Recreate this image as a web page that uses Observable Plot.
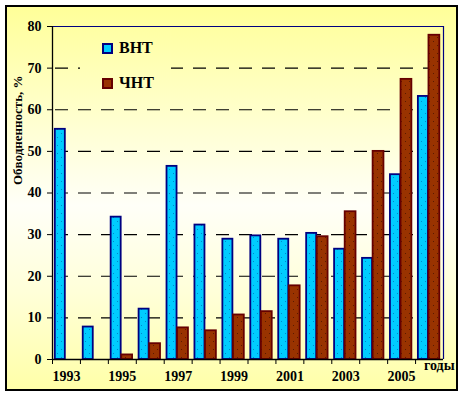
<!DOCTYPE html>
<html>
<head>
<meta charset="utf-8">
<script src="https://cdn.jsdelivr.net/npm/d3@7"></script>
<script src="https://cdn.jsdelivr.net/npm/@observablehq/plot@0.6"></script>
<style>
  html, body { margin: 0; padding: 0; background: #fff; }
  #wrap { position: relative; width: 465px; height: 397px; overflow: hidden; font-family: "Liberation Serif", "Times New Roman", serif; }
  #frame { position: absolute; left: 5px; top: 5px; width: 453px; height: 386px; box-sizing: border-box; border: 2px solid #000;
    background: linear-gradient(to bottom, #FFFF99 0%, #FFFFD0 30%, #FFFFF8 52%, #FFFFD8 75%, #FFFFA8 100%); }
  #chart { position: absolute; left: 0; top: 0; }
  #chart svg, #chart svg text { font-family: "Liberation Serif", "Times New Roman", serif !important; font-weight: bold; }
  #legend { position: absolute; left: 80px; top: 30px; width: 91px; height: 70px;
    background: linear-gradient(to bottom, #FFFF99 0%, #FFFFD0 30%, #FFFFF8 52%, #FFFFD8 75%, #FFFFA8 100%);
    background-size: 453px 386px; background-position: -75px -25px; }
  .li { position: absolute; left: 22px; font-weight: bold; font-size: 16px; line-height: 16px; color: #000; display: flex; align-items: center; }
  .sw { width: 7px; height: 7px; border: 2px solid; margin-right: 6px; }
  #years { position: absolute; left: 424px; top: 358px; font-weight: bold; font-size: 14px; }
</style>
</head>
<body>
<div id="wrap">
  <div id="frame"></div>
  <div id="chart"></div>
  <div id="legend"></div>
  <div id="years">годы</div>
</div>
<script>
const years = [1993, 1994, 1995, 1996, 1997, 1998, 1999, 2000, 2001, 2002, 2003, 2004, 2005, 2006];
const vnt = [55.3, 7.8, 34.2, 12.1, 46.4, 32.3, 28.9, 29.7, 28.9, 30.3, 26.5, 24.3, 44.4, 63.2];
const cnt = [null, null, 1.1, 3.8, 7.6, 6.9, 10.7, 11.5, 17.7, 29.5, 35.5, 50.0, 67.3, 77.9];
const seriesNames = ["ВНТ", "ЧНТ"];
const yTicks = [0, 10, 20, 30, 40, 50, 60, 70, 80];
const xLabels = [1993, 1995, 1997, 1999, 2001, 2003, 2005];
const yLabel = "Обводненность, %";

const blue = "#00CCFF", blueEdge = "#000080", blueDot = "#0088CC";
const red = "#993300", redEdge = "#660000", redDot = "#5A1A00";

const dataV = years.map((y, i) => ({year: y, v: vnt[i]}));
const dataC = years.map((y, i) => ({year: y, v: cnt[i]})).filter(d => d.v != null);
const bounds = years.map(y => y - 0.5);
const grid = yTicks.filter(t => t > 0 && t < 80);

// texture patterns for bar fills
function patternDefs() {
  const ns = "http://www.w3.org/2000/svg";
  const defs = document.createElementNS(ns, "defs");
  [["pb", blue, blueDot], ["pr", red, redDot]].forEach(([id, base, dot]) => {
    const p = document.createElementNS(ns, "pattern");
    p.setAttribute("id", id);
    p.setAttribute("patternUnits", "userSpaceOnUse");
    p.setAttribute("width", "8");
    p.setAttribute("height", "8");
    const r = document.createElementNS(ns, "rect");
    r.setAttribute("width", "8"); r.setAttribute("height", "8"); r.setAttribute("fill", base);
    p.appendChild(r);
    [[1, 1], [5, 5]].forEach(([x, y]) => {
      const d = document.createElementNS(ns, "rect");
      d.setAttribute("x", x); d.setAttribute("y", y); d.setAttribute("width", "1"); d.setAttribute("height", "1"); d.setAttribute("fill", dot);
      p.appendChild(d);
    });
    defs.appendChild(p);
  });
  return defs;
}

const chart = Plot.plot({
  width: 465, height: 397,
  marginLeft: 52, marginRight: 22, marginTop: 26, marginBottom: 38,
  style: { background: "transparent", fontFamily: "Liberation Serif, serif", fontWeight: "bold", fontSize: "13px", color: "#000" },
  x: { type: "linear", domain: [years[0] - 0.5, years[years.length - 1] + 0.5] },
  y: { domain: [0, 80] },
  marks: [
    patternDefs,
    Plot.ruleY(grid, { stroke: "#000", strokeWidth: 1.2, strokeDasharray: "13,10", strokeDashoffset: -3 }),
    Plot.rectY(dataV, { x1: d => d.year - 0.5, x2: d => d.year + 0.5, y: "v", fill: "url(#pb)", stroke: blueEdge, strokeWidth: 1.8, insetLeft: 2.8, insetRight: 15.1 }),
    Plot.rectY(dataC, { x1: d => d.year - 0.5, x2: d => d.year + 0.5, y: "v", fill: "url(#pr)", stroke: redEdge, strokeWidth: 1.8, insetLeft: 13.4, insetRight: 3.7 }),
    Plot.ruleY([80], { stroke: "#000080", strokeWidth: 1.2 }),
    Plot.ruleX([years[years.length - 1] + 0.5], { stroke: "#000080", strokeWidth: 1.2 }),
    Plot.ruleX([years[0] - 0.5], { stroke: "#000", strokeWidth: 1.3 }),
    Plot.ruleY([0], { stroke: "#000", strokeWidth: 1.3 }),
    Plot.axisY({ ticks: yTicks, tickSize: 5, tickPadding: 6, tickFormat: d => d, fontSize: 14, label: null, stroke: "#000" }),
    Plot.axisX({ ticks: bounds, tickSize: 5, tickFormat: () => "", label: null, stroke: "#000" }),
    Plot.axisX({ ticks: xLabels, tickSize: 0, tickPadding: 12, tickFormat: d => String(d), label: null, fontSize: 14 }),
    Plot.text([yLabel], { frameAnchor: "left", rotate: -90, dx: -35, dy: -8, fontSize: 13, fontWeight: "bold", fill: "#000", letterSpacing: "0.8px" })
  ]
});
document.getElementById("chart").appendChild(chart);

const lg = document.getElementById("legend");
const cols = [[blue, blueEdge], [red, redEdge]];
seriesNames.forEach((n, i) => {
  const el = document.createElement("div");
  el.className = "li";
  el.style.top = (i === 0 ? 10 : 45) + "px";
  const sw = document.createElement("span");
  sw.className = "sw";
  sw.style.background = cols[i][0];
  sw.style.borderColor = cols[i][1];
  el.appendChild(sw);
  el.appendChild(document.createTextNode(n));
  lg.appendChild(el);
});
</script>
</body>
</html>
